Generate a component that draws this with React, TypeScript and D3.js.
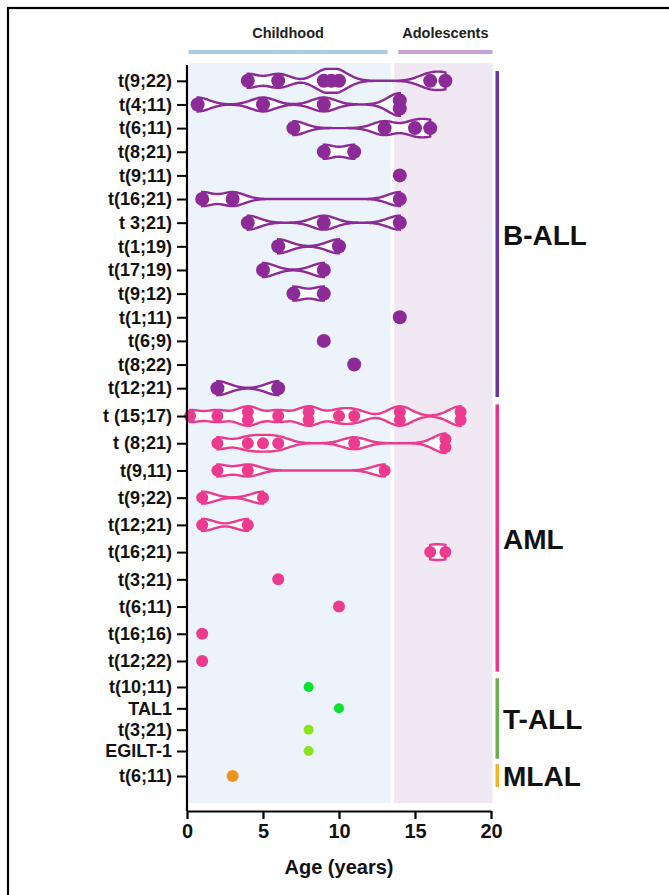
import React, { useEffect, useRef } from 'react';
import * as d3 from 'd3';

// Row labels and ages (years) per group
const bAllLabels = ['t(9;22)', 't(4;11)', 't(6;11)', 't(8;21)', 't(9;11)', 't(16;21)', 't 3;21)', 't(1;19)', 't(17;19)', 't(9;12)', 't(1;11)', 't(6;9)', 't(8;22)', 't(12;21)'];
const bAllAges = [
  [4, 6, 9, 9.5, 10, 16, 17],
  [0.7, 5, 9, 14, 14],
  [7, 13, 15, 16],
  [9, 11],
  [14],
  [1, 3, 14],
  [4, 9, 14],
  [6, 10],
  [5, 9],
  [7, 9],
  [14],
  [9],
  [11],
  [2, 6],
];

const amlLabels = ['t (15;17)', 't (8;21)', 't(9,11)', 't(9;22)', 't(12;21)', 't(16;21)', 't(3;21)', 't(6;11)', 't(16;16)', 't(12;22)'];
const amlAges = [
  [0.2, 2, 4, 4, 6, 8, 8, 10, 11, 14, 14, 18, 18],
  [2, 4, 5, 6, 11, 17, 17],
  [2, 4, 13],
  [1, 5],
  [1, 4],
  [16, 17],
  [6],
  [10],
  [1],
  [1],
];

const tAllLabels = ['t(10;11)', 'TAL1', 't(3;21)', 'EGILT-1'];
const tAllAges = [[8], [10], [8], [8]];
const tAllColors = ['#07e22c', '#07e22c', '#8ae41c', '#8ae41c'];

const mlalLabels = ['t(6;11)'];
const mlalAges = [[3]];

const groupNames = ['B-ALL', 'AML', 'T-ALL', 'MLAL'];
const groupBarColors = ['#6a36a2', '#e8348b', '#6fac50', '#f5b52a'];
const groupDotColors = ['#8c2a97', '#ec3a8f', '#07e22c', '#f0921e'];
// vertical extent of each group block (layout)
const groupBands: [number, number][] = [[69, 400], [402.4, 674.6], [676.3, 761.7], [762, 790]];
const groupRadius = [7, 6, 5, 6];

const ageTicks = [0, 5, 10, 15, 20];
const periods = [
  { name: 'Childhood', from: 0, to: 13.4, bar: [0.1, 13.2], bg: '#edf3fa', line: '#a9cde9' },
  { name: 'Adolescents', from: 13.5, to: 20.1, bar: [13.9, 20.1], bg: '#f0e8f3', line: '#c5a3d6' },
];

const FONT = '"Liberation Sans", Arial, Helvetica, sans-serif';

export default function App() {
  const ref = useRef<SVGSVGElement>(null);

  useEffect(() => {
    if (!ref.current) return;
    const svg = d3.select(ref.current);
    svg.selectAll('*').remove();

    const x = d3.scaleLinear().domain([0, 20]).range([187, 491]);
    const plotTop = 63;
    const plotBottom = 803;
    const axisY = 811;

    const groups = [
      { labels: bAllLabels, ages: bAllAges },
      { labels: amlLabels, ages: amlAges },
      { labels: tAllLabels, ages: tAllAges },
      { labels: mlalLabels, ages: mlalAges },
    ];

    // frame
    svg.append('rect')
      .attr('x', 8).attr('y', 8).attr('width', 720).attr('height', 960)
      .attr('fill', 'none').attr('stroke', '#000').attr('stroke-width', 2.2);

    // period backgrounds and header bars
    periods.forEach(p => {
      svg.append('rect')
        .attr('x', x(p.from) + 2).attr('y', plotTop)
        .attr('width', x(p.to) - x(p.from) - 2).attr('height', plotBottom - plotTop)
        .attr('fill', p.bg);
      svg.append('rect')
        .attr('x', x(p.bar[0])).attr('y', 50)
        .attr('width', x(p.bar[1]) - x(p.bar[0])).attr('height', 4)
        .attr('fill', p.line);
      svg.append('text')
        .attr('x', (x(p.bar[0]) + x(p.bar[1])) / 2).attr('y', 38)
        .attr('text-anchor', 'middle')
        .style('font-family', FONT).style('font-weight', 700).style('font-size', '14.5px')
        .attr('fill', '#222')
        .text(p.name);
    });

    const yTickKeys: string[] = [];
    const yTickPos: number[] = [];

    groups.forEach((g, gi) => {
      const keys = g.labels.map((l, i) => `${gi}|${i}|${l}`);
      const y = d3.scalePoint<string>().domain(keys).range(groupBands[gi]).padding(0.5);
      keys.forEach(k => { yTickKeys.push(k); yTickPos.push(y(k) as number); });
      const r = groupRadius[gi];

      // group bar + label
      const [b0, b1] = groupBands[gi];
      svg.append('rect')
        .attr('x', 495.5).attr('y', b0 + 2).attr('width', 3.5).attr('height', b1 - b0 - 5)
        .attr('fill', groupBarColors[gi]);
      svg.append('text')
        .attr('x', 503).attr('y', (b0 + b1) / 2).attr('dy', '0.36em')
        .style('font-family', FONT).style('font-weight', 700).style('font-size', '28px')
        .attr('fill', '#111')
        .text(groupNames[gi]);

      g.ages.forEach((vals, ri) => {
        const cy = y(keys[ri]) as number;
        const color = gi === 2 ? tAllColors[ri] : groupDotColors[gi];
        const lo = d3.min(vals) as number;
        const hi = d3.max(vals) as number;
        if (hi > lo) {
          const h = 0.65;
          const grid = d3.range(0, 161).map(i => lo + (hi - lo) * i / 160);
          const pts = grid.map(a => {
            const dens = d3.sum(vals, v => Math.exp(-((a - v) ** 2) / (2 * h * h)));
            return [a, Math.min(r * 1.7, r * Math.pow(dens, 0.7))] as [number, number];
          });
          const area = d3.area<[number, number]>()
            .x(d => x(d[0]))
            .y0(d => cy - d[1])
            .y1(d => cy + d[1])
            .curve(d3.curveBasis);
          svg.append('path')
            .attr('d', area(pts) as string)
            .attr('fill', '#fff')
            .attr('stroke', color)
            .attr('stroke-width', 2.4);
        }
        // dots, duplicates stacked vertically
        const counts = d3.rollup(vals, v => v.length, v => v);
        const seen = new Map<number, number>();
        vals.forEach(v => {
          const n = counts.get(v) || 1;
          const k = seen.get(v) || 0;
          seen.set(v, k + 1);
          svg.append('circle')
            .attr('cx', x(v))
            .attr('cy', cy + (k - (n - 1) / 2) * 8)
            .attr('r', r)
            .attr('fill', color);
        });
      });
    });

    // y axis
    const yOrd = d3.scaleOrdinal<string, number>().domain(yTickKeys).range(yTickPos);
    const yAxis = svg.append('g')
      .attr('transform', `translate(${x(0)},0)`)
      .call(d3.axisLeft(yOrd as any).tickSize(10).tickPadding(5).tickFormat((d: any) => String(d).split('|')[2]));
    yAxis.select('.domain').remove();
    yAxis.selectAll('line').attr('stroke', '#000').attr('stroke-width', 2);
    yAxis.selectAll('text')
      .style('font-family', FONT).style('font-weight', 700).style('font-size', '18px')
      .attr('fill', '#111');
    svg.append('line')
      .attr('x1', x(0)).attr('x2', x(0)).attr('y1', 65).attr('y2', axisY)
      .attr('stroke', '#000').attr('stroke-width', 2.2);

    // x axis
    const xAxis = svg.append('g')
      .attr('transform', `translate(0,${axisY})`)
      .call(d3.axisBottom(x).tickValues(ageTicks).tickSize(8).tickPadding(5).tickSizeOuter(0));
    xAxis.select('.domain').attr('stroke', '#000').attr('stroke-width', 2.2);
    xAxis.selectAll('line').attr('stroke', '#000').attr('stroke-width', 2.2);
    xAxis.selectAll('text')
      .style('font-family', FONT).style('font-weight', 700).style('font-size', '20px')
      .attr('fill', '#111');

    svg.append('text')
      .attr('x', (x(0) + x(20)) / 2).attr('y', 874)
      .attr('text-anchor', 'middle')
      .style('font-family', FONT).style('font-weight', 700).style('font-size', '20px')
      .attr('fill', '#111')
      .text('Age (years)');
  }, []);

  return (
    <svg
      ref={ref}
      width={669}
      height={895}
      style={{ position: 'absolute', left: 0, top: 0, background: '#fff', display: 'block' }}
    />
  );
}
